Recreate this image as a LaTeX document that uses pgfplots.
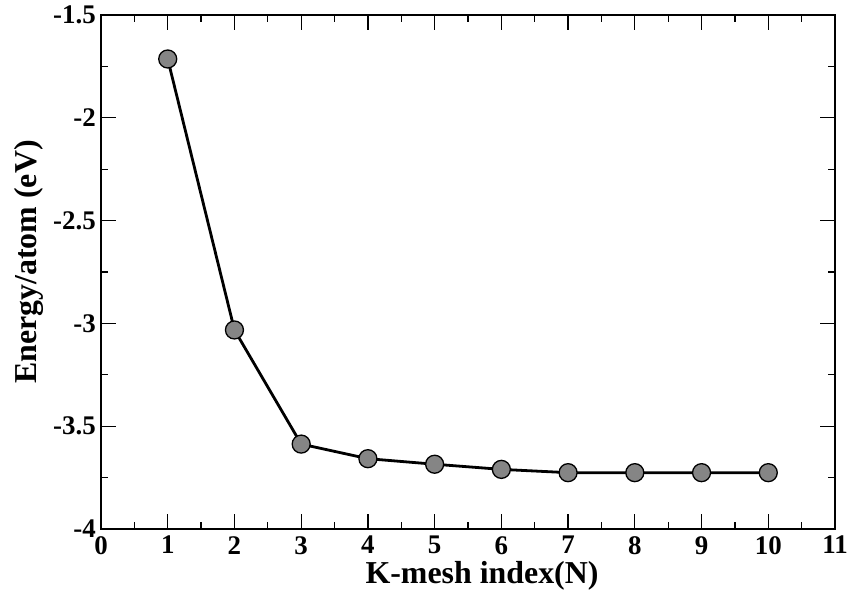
\documentclass[border=0pt]{standalone}
\usepackage{fontspec}
\setmainfont{Liberation Serif}
\usepackage{pgfplots}
\pgfplotsset{compat=1.18}
\begin{document}
\begin{tikzpicture}[x=1bp,y=1bp]
\path[use as bounding box] (-101bp,-68bp) rectangle (752bp,529bp);
\begin{axis}[
  scale only axis,
  width=734bp, height=514bp,
  xmin=0, xmax=11, ymin=-4, ymax=-1.5,
  xtick={0,1,...,11},
  ytick={-4,-3.5,-3,-2.5,-2,-1.5},
  yticklabels={-4,-3.5,-3,-2.5,-2,-1.5},
  minor x tick num=1, minor y tick num=1,
  tick align=inside,
  xtick pos=both, ytick pos=both,
  major tick length=15bp, minor tick length=7.5bp,
  every tick/.style={line width=1.3bp, black},
  axis line style={line width=2.4bp},
  /pgf/number format/assume math mode=true,
  tick label style={font=\fontsize{27}{27}\selectfont\bfseries},
  xticklabel style={inner sep=0pt, yshift=-7bp},
  yticklabel style={inner sep=0pt, xshift=-5bp},
  label style={font=\fontsize{32}{32}\selectfont\bfseries},
  xlabel={K-mesh index(N)},
  ylabel={Energy/atom (eV)},
  xlabel style={at={(axis description cs:0.5,0)}, anchor=base, yshift=-54bp, xshift=14bp, inner sep=0pt},
  ylabel style={at={(axis description cs:0,0.5)}, anchor=center, yshift=72bp, xshift=10bp, inner sep=0pt},
  clip=false,
]
\addplot[line width=2.8bp, black, mark=*, mark size=9bp,
  mark options={fill=black!48, line width=1.3bp, draw=black}]
coordinates {
(1,-1.714) (2,-3.032) (3,-3.587) (4,-3.658) (5,-3.685)
(6,-3.710) (7,-3.726) (8,-3.726) (9,-3.726) (10,-3.726)
};
\end{axis}
\end{tikzpicture}
\end{document}
